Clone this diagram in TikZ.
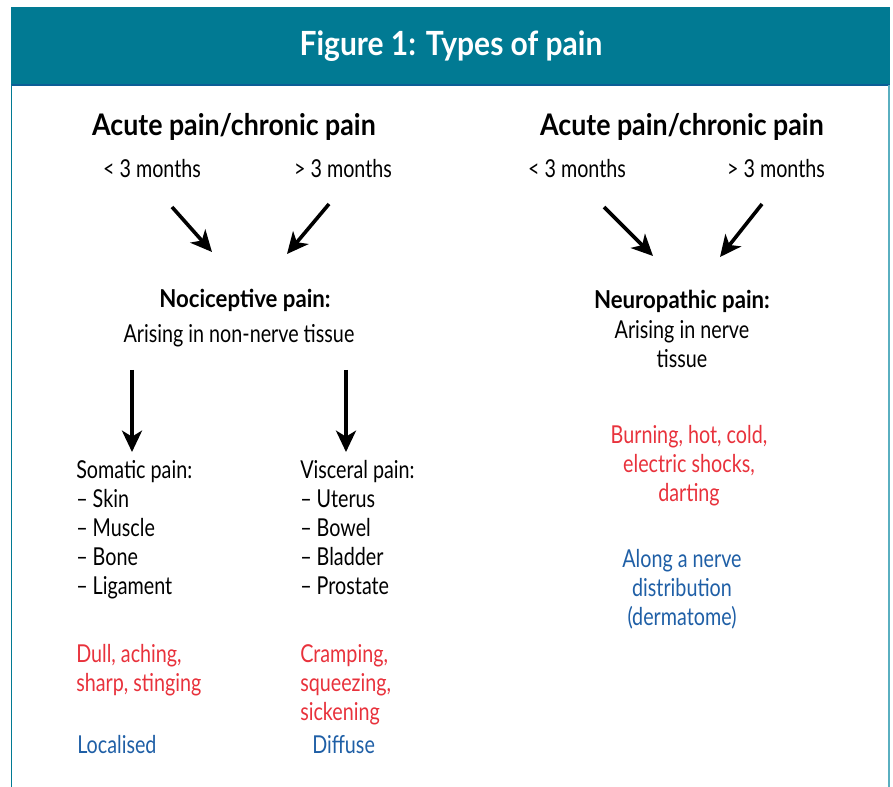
\documentclass[tikz,border=0pt]{standalone}
\usepackage{fontspec}
\setmainfont{Lato}[FakeStretch=0.80,BoldFeatures={FakeStretch=0.90}]
\usetikzlibrary{arrows.meta}
\definecolor{figteal}{RGB}{1,122,147}
\definecolor{figline}{RGB}{11,94,150}
\definecolor{figred}{RGB}{232,50,60}
\definecolor{figblue}{RGB}{31,95,166}
\tikzset{
  bigarrow/.style={line width=2.7pt,-{Stealth[length=16pt,width=15pt,inset=4.5pt]}},
  txt/.style={inner sep=0pt,font=\fontsize{18.5}{21.8}\selectfont},
  head/.style={inner sep=0pt,font=\fontsize{22.3}{26}\selectfont\bfseries},
}
\begin{document}
\begin{tikzpicture}[x=0.75pt,y=0.75pt,yscale=-1,xscale=1]
\useasboundingbox (0,0) rectangle (893,787);

%Shape: Title band
\fill [figteal] (11,7) rectangle (890,85);
\draw [figline,line width=1.2pt] (11,85) -- (890,85);
\draw [figteal,line width=1pt] (11.8,85) -- (11.8,787);
\draw [color={rgb, 255:red, 90; green, 175; blue, 192 },line width=1pt] (889,85) -- (889,787);

% Text Node
\draw (451,46) node [inner sep=0pt,text=white,font=\fontsize{25}{30}\selectfont\bfseries] (title) {Figure 1: Types of pain};

% Text Node
\draw (234,127) node [head] (lhead) {Acute pain/chronic pain};
% Text Node
\draw (152,169) node [txt] (lshort) {< 3 months};
% Text Node
\draw (343,169) node [txt] (llong) {> 3 months};
% Text Node
\draw (682,127) node [head] (rhead) {Acute pain/chronic pain};
% Text Node
\draw (577,169) node [txt] (rshort) {< 3 months};
% Text Node
\draw (776,169) node [txt] (rlong) {> 3 months};

% Text Node
\draw (245,300) node [txt,font=\fontsize{18.5}{21.8}\selectfont\bfseries] (noci) {Nociceptive pain:};
% Text Node
\draw (239,336) node [txt] (nociwhere) {Arising in non-nerve tissue};
% Text Node
\draw (682,329) node [txt,align=center] (neuro) {\textbf{Neuropathic pain:}\\Arising in nerve\\tissue};

%Straight Lines
\coordinate (a1) at (172,207); \coordinate (a1e) at (212,252);
\coordinate (a2) at (329,204); \coordinate (a2e) at (287,254);
\coordinate (a3) at (604,207); \coordinate (a3e) at (653,256);
\coordinate (a4) at (762,204); \coordinate (a4e) at (720,257);
\draw [bigarrow] (a1) -- (a1e);
\draw [bigarrow] (a2) -- (a2e);
\draw [bigarrow] (a3) -- (a3e);
\draw [bigarrow] (a4) -- (a4e);
\coordinate (b1) at (132,370); \coordinate (b1e) at (132,452);
\coordinate (b2) at (346,370); \coordinate (b2e) at (346,452);
\draw [bigarrow] (b1) -- (b1e);
\draw [bigarrow] (b2) -- (b2e);

% Text Node
\draw (76,460) node [txt,anchor=north west,align=left] (somatic) {Somatic pain:\\-- Skin\\-- Muscle\\-- Bone\\-- Ligament};
% Text Node
\draw (300,460) node [txt,anchor=north west,align=left] (visceral) {Visceral pain:\\-- Uterus\\-- Bowel\\-- Bladder\\-- Prostate};

% Text Node
\draw (76,644) node [txt,anchor=north west,align=left,text=figred] (somfeel) {Dull, aching,\\sharp, stinging};
% Text Node
\draw (300,644) node [txt,anchor=north west,align=left,text=figred] (visfeel) {Cramping,\\squeezing,\\sickening};
% Text Node
\draw (77,735) node [txt,anchor=north west,text=figblue] (somwhere) {Localised};
% Text Node
\draw (312,735) node [txt,anchor=north west,text=figblue] (viswhere) {Diffuse};

% Text Node
\draw (689,466) node [txt,align=center,text=figred] (neurofeel) {Burning, hot, cold,\\electric shocks,\\darting};
% Text Node
\draw (682,589) node [txt,align=center,text=figblue] (neurowhere) {Along a nerve\\distribution\\(dermatome)};

\end{tikzpicture}
\end{document}
